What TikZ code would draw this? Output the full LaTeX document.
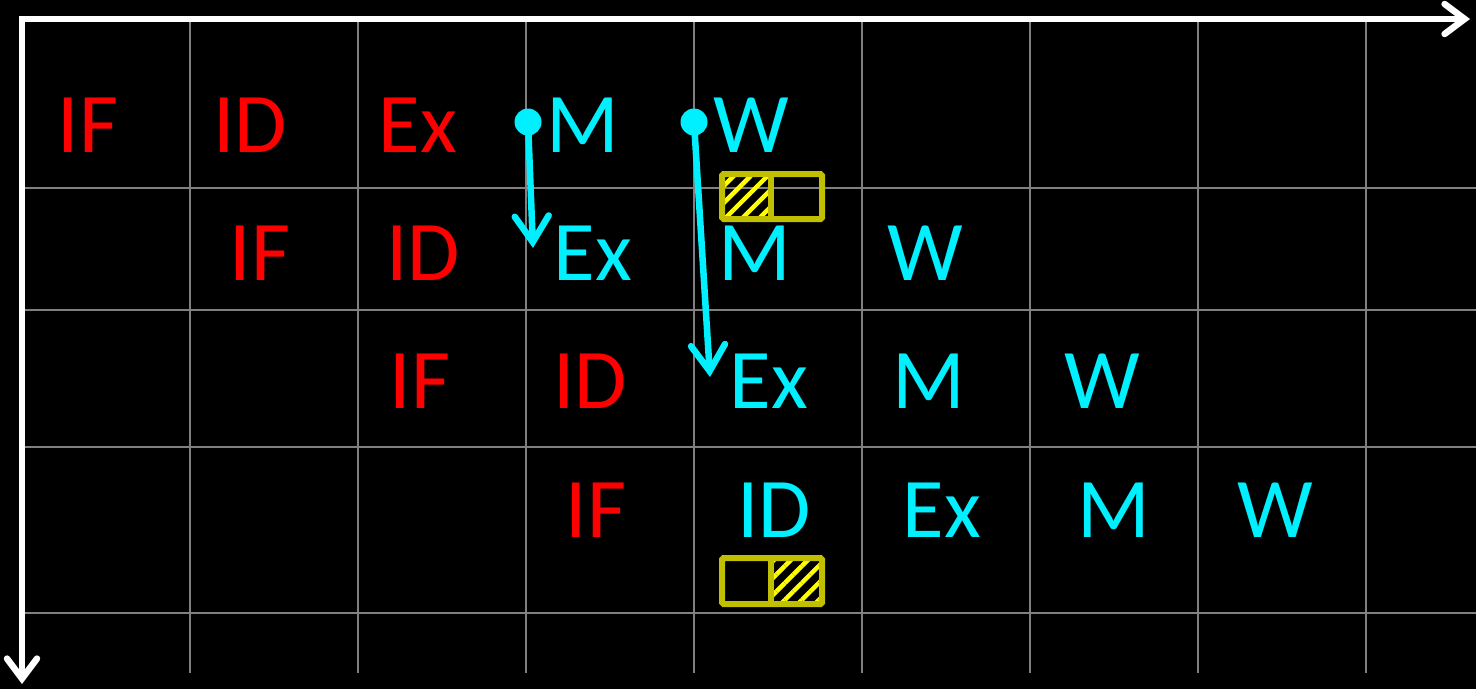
\documentclass[tikz,border=0pt]{standalone}
\usepackage{fontspec}
\setmainfont{Carlito}
\usetikzlibrary{arrows.meta,patterns.meta}
\definecolor{stgred}{HTML}{FF0000}
\definecolor{stgcyan}{HTML}{00F0FF}
\definecolor{gridgray}{HTML}{808080}
\definecolor{boxolive}{HTML}{C0C000}
\definecolor{hatchyel}{HTML}{FFFF00}
\tikzset{
  stg/.style={inner sep=0pt, anchor=base, font=\fontsize{85}{90}\selectfont},
  rd/.style={stg, text=stgred},
  cy/.style={stg, text=stgcyan},
  gridln/.style={draw=gridgray, line width=2.8pt},
  axis/.style={draw=white, line width=6.5pt, -{Straight Barb[length=20pt,width=30pt,line width=6.5pt,line cap=round]}},
  fwd/.style={draw=stgcyan, line width=6.5pt, -{Straight Barb[length=26pt,width=34pt,line width=6.5pt,line cap=round]}},
  dot/.style={circle, fill=stgcyan, minimum size=27pt, inner sep=0pt},
  halfbox/.style={draw=boxolive, line width=6pt, rounded corners=1.5pt},
  hatched/.style={pattern={Lines[angle=45,distance=12pt,line width=4.5pt]}, pattern color=hatchyel}
}
\begin{document}
\begin{tikzpicture}[x=1pt,y=-1pt]
\fill[black] (0,0) rectangle (1476,689);
\useasboundingbox (0,0) rectangle (1476,689);
% grid
\foreach \x in {190,358,526,694,862,1030,1198,1366} \draw[gridln] (\x,19) -- (\x,673);
\foreach \y in {188,310,447,613} \draw[gridln] (22,\y) -- (1476,\y);
% axes
\coordinate (o) at (22,19);
\coordinate (xend) at (1470,19);
\coordinate (yend) at (22,684);
\draw[axis] ([xshift=-3.25pt]o) -- (xend);
\draw[axis] ([yshift=-3.25pt]o) -- (yend);
% row 1
\node[rd] (i1if) at (88,152) {IF};
\node[rd] (i1id) at (250,152) {ID};
\node[rd] (i1ex) at (418,152) {Ex};
\node[cy] (i1m) at (583,152) {M};
\node[cy] (i1w) at (751,152) {W};
% row 2
\node[rd] (i2if) at (260,280) {IF};
\node[rd] (i2id) at (423,280) {ID};
\node[cy] (i2ex) at (593,280) {Ex};
\node[cy] (i2m) at (755,280) {M};
\node[cy] (i2w) at (925,280) {W};
% row 3
\node[rd] (i3if) at (420,408) {IF};
\node[rd] (i3id) at (590,408) {ID};
\node[cy] (i3ex) at (769,408) {Ex};
\node[cy] (i3m) at (929,408) {M};
\node[cy] (i3w) at (1102,408) {W};
% row 4
\node[rd] (i4if) at (596,537) {IF};
\node[cy] (i4id) at (774,537) {ID};
\node[cy] (i4ex) at (942,537) {Ex};
\node[cy] (i4m) at (1114,537) {M};
\node[cy] (i4w) at (1275,537) {W};
% forwarding
\node[dot] (d1) at (528,122) {};
\node[dot] (d2) at (694,122) {};
\coordinate (t1) at (533,248);
\coordinate (t2) at (710,377);
\draw[fwd] (d1.center) -- (t1);
\draw[fwd] (d2.center) -- (t2);
% register file boxes
\fill[hatched] (722,174) rectangle (770,219);
\draw[halfbox] (722,174) rectangle (822,219);
\draw[draw=boxolive, line width=6pt] (771,174) -- (771,219);
\fill[hatched] (771,558) rectangle (822,604);
\draw[halfbox] (722,558) rectangle (822,604);
\draw[draw=boxolive, line width=6pt] (771,558) -- (771,604);
\end{tikzpicture}
\end{document}
